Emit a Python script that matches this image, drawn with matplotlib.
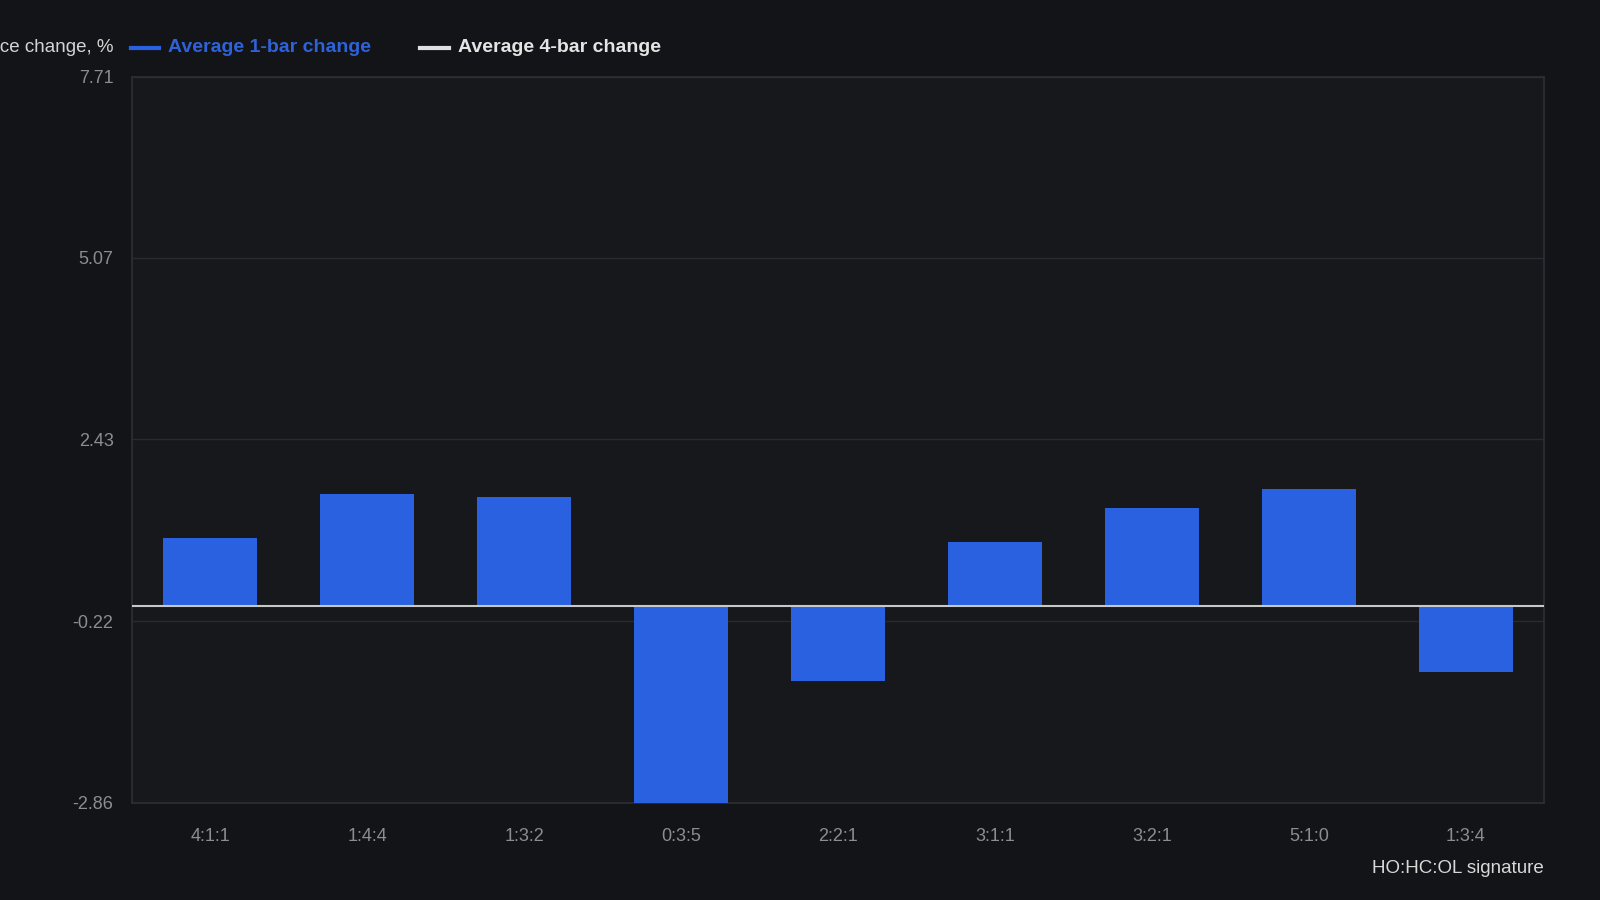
import numpy as np
import matplotlib
matplotlib.use("Agg")
from matplotlib import pyplot as plt

signatures = ["4:1:1", "1:4:4", "1:3:2", "0:3:5", "2:2:1", "3:1:1", "3:2:1", "5:1:0", "1:3:4"]
avg_1bar = [1.00, 1.64, 1.59, -2.86, -1.09, 0.94, 1.43, 1.70, -0.95]
avg_4bar = 0.0
yticks = [-2.86, -0.22, 2.43, 5.07, 7.71]

bg = "#131418"
plot_bg = "#17181c"
blue = "#2961e0"
grey = "#8c8d91"

plt.rcParams['font.family'] = ['Liberation Sans', 'DejaVu Sans']

fig = plt.figure(figsize=(16, 9), dpi=100, facecolor=bg)
ax = fig.add_axes([0.0823, 0.108, 0.883, 0.807])
ax.set_facecolor(plot_bg)

x = np.arange(len(signatures))
ax.bar(x, avg_1bar, width=0.6, color=blue, zorder=3)
ax.axhline(avg_4bar, color="#c8c8c8", lw=1.5, zorder=4)

ax.set_xlim(-0.5, len(signatures) - 0.5)
ax.set_ylim(yticks[0], yticks[-1])
ax.set_yticks(yticks)
ax.set_yticklabels(["%.2f" % v for v in yticks])
ax.set_xticks(x)
ax.set_xticklabels(signatures)
ax.grid(axis="y", color="#2a2b30", lw=1, zorder=0)
ax.tick_params(colors=grey, labelsize=13, length=0)
ax.tick_params(axis="x", pad=18)
ax.tick_params(axis="y", pad=13)
for s in ax.spines.values():
    s.set_color("#2e2f34")
    s.set_linewidth(1.2)

# legend drawn by hand, as in the original header row
ly = 0.947
fig.text(0.0708, ly, "Price change, %", color="#d4d4d4", fontsize=13.5, ha="right", va="center")
fig.lines.append(plt.Line2D([0.0816, 0.0995], [ly, ly], transform=fig.transFigure, color=blue, lw=3))
fig.text(0.105, ly, "Average 1-bar change", color="#2e62d8", fontsize=14, fontweight="bold", va="center")
fig.lines.append(plt.Line2D([0.2625, 0.2805], [ly, ly], transform=fig.transFigure, color="#e0e0e0", lw=3))
fig.text(0.286, ly, "Average 4-bar change", color="#e4e4e4", fontsize=14, fontweight="bold", va="center")

fig.text(0.965, 0.035, "HO:HC:OL signature", color="#d8d8d8", fontsize=13.5, ha="right", va="center")

fig.savefig("out.png", facecolor=bg)
